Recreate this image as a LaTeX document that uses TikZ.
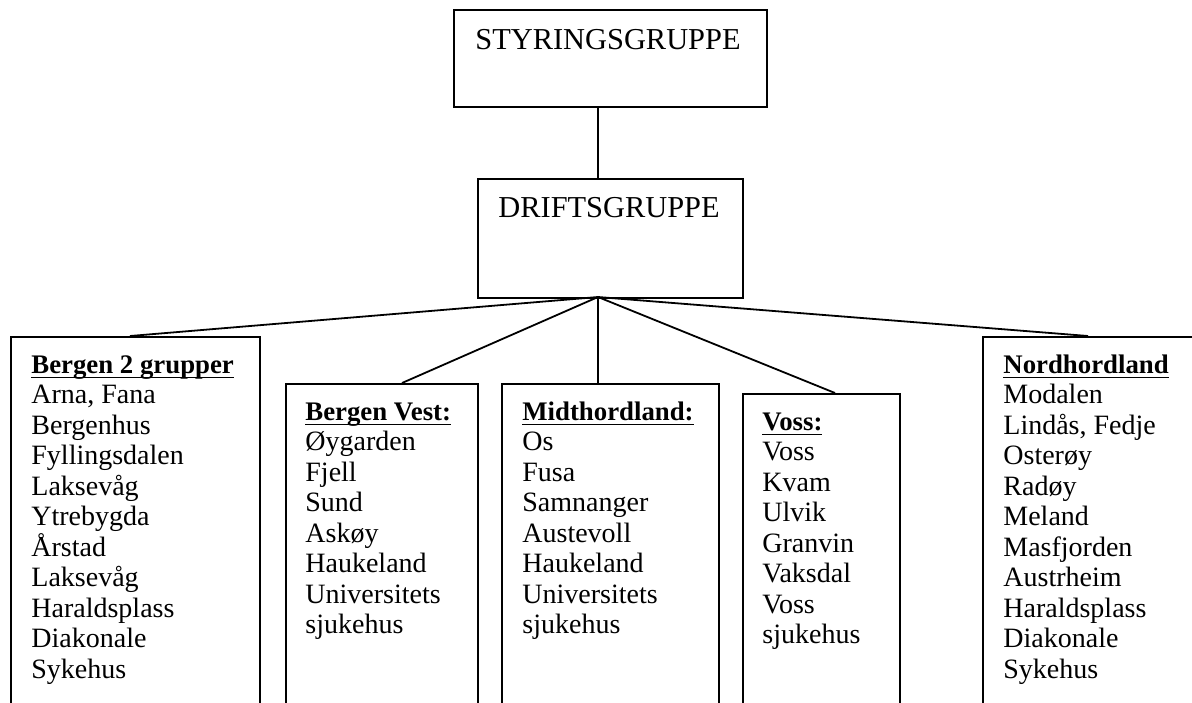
\documentclass[tikz,border=0pt]{standalone}
\usepackage{fontspec}
\setmainfont{Liberation Serif}
\newsavebox\ulbox
\newcommand\myul[1]{\sbox\ulbox{#1}\rlap{\rule[-2.5pt]{\wd\ulbox}{0.75pt}}\usebox\ulbox}
\newcommand\firstrule{\rule{0pt}{11.2pt}}
\begin{document}
\begin{tikzpicture}[x=0.5pt,y=-0.5pt,
  boxst/.style={draw=black, line width=0.9pt, rectangle, inner sep=0pt, anchor=north west},
  conn/.style={draw=black, line width=0.9pt},
  toplbl/.style={inner sep=0pt, anchor=base west, font=\fontsize{15.2}{16}\selectfont},
  listlbl/.style={inner sep=0pt, anchor=north west, align=left, font=\fontsize{14}{15.25}\selectfont},
  hdr/.style={font=\fontsize{13.4}{15.25}\selectfont\bfseries}]
\clip (0,0) rectangle (1192,702);
\fill[white] (0,0) rectangle (1192,702);

% top boxes
\node[boxst, minimum width=156.5pt, minimum height=48.5pt] (styr) at (453,9) {};
\node[toplbl] (styrt) at (475,49) {STYRINGSGRUPPE};
\node[boxst, minimum width=132.5pt, minimum height=59.5pt] (drift) at (477,178) {};
\node[toplbl] (driftt) at (498,217) {DRIFTSGRUPPE};
\coordinate (hub) at (598,297);

% bottom boxes (cut off at the bottom edge)
\node[boxst, minimum width=124.5pt, minimum height=197pt] (b1) at (10,336) {};
\node[boxst, minimum width=96pt, minimum height=173.5pt] (b2) at (285,383) {};
\node[boxst, minimum width=108.5pt, minimum height=173.5pt] (b3) at (501,383) {};
\node[boxst, minimum width=78.5pt, minimum height=168.5pt] (b4) at (742,393) {};
\node[boxst, minimum width=124pt, minimum height=197pt] (b5) at (982,336) {};

\node[listlbl] (t1) at (31,350.6) {\firstrule\myul{\textbf{\fontsize{13.4}{15.25}\selectfont Bergen 2 grupper}}\\ Arna, Fana\\ Bergenhus\\ Fyllingsdalen\\ Laksevåg\\ Ytrebygda\\ Årstad\\ Laksevåg\\ Haraldsplass\\ Diakonale\\ Sykehus};
\node[listlbl] (t2) at (305,397.6) {\firstrule\myul{\textbf{\fontsize{13.4}{15.25}\selectfont Bergen Vest:}}\\ Øygarden\\ Fjell\\ Sund\\ Askøy\\ Haukeland\\ Universitets\\ sjukehus};
\node[listlbl] (t3) at (522,397.6) {\firstrule\myul{\textbf{\fontsize{13.4}{15.25}\selectfont Midthordland:}}\\ Os\\ Fusa\\ Samnanger\\ Austevoll\\ Haukeland\\ Universitets\\ sjukehus};
\node[listlbl] (t4) at (762,407.6) {\firstrule\myul{\textbf{\fontsize{13.4}{15.25}\selectfont Voss:}}\\ Voss\\ Kvam\\ Ulvik\\ Granvin\\ Vaksdal\\ Voss\\ sjukehus};
\node[listlbl] (t5) at (1003,350.6) {\firstrule\myul{\textbf{\fontsize{13.4}{15.25}\selectfont Nordhordland}}\\ Modalen\\ Lindås, Fedje\\ Osterøy\\ Radøy\\ Meland\\ Masfjorden\\ Austrheim\\ Haraldsplass\\ Diakonale\\ Sykehus};

% connectors
\draw[conn] (styr.south -| hub) -- (drift.north -| hub);
\draw[conn] (hub) -- ([xshift=60pt]b1.north west);
\draw[conn] (hub) -- ([xshift=58.5pt]b2.north west);
\draw[conn] (hub) -- (hub |- b3.north);
\draw[conn] (hub) -- ([xshift=46.5pt]b4.north west);
\draw[conn] (hub) -- ([xshift=53pt]b5.north west);
\end{tikzpicture}
\end{document}
